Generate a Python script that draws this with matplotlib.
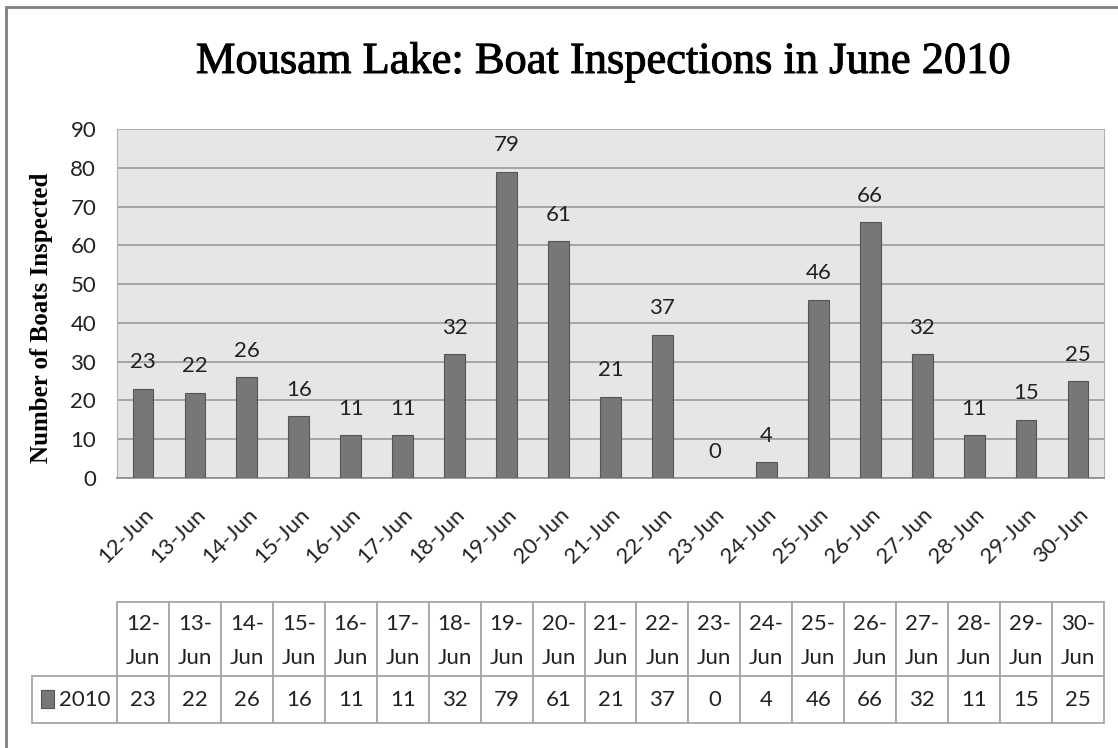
import matplotlib
matplotlib.use("Agg")
import matplotlib.pyplot as plt
import matplotlib.patheffects as pe
from matplotlib.patches import Rectangle

days = ["12-Jun", "13-Jun", "14-Jun", "15-Jun", "16-Jun", "17-Jun", "18-Jun", "19-Jun",
        "20-Jun", "21-Jun", "22-Jun", "23-Jun", "24-Jun", "25-Jun", "26-Jun", "27-Jun",
        "28-Jun", "29-Jun", "30-Jun"]
boats = [23, 22, 26, 16, 11, 11, 32, 79, 61, 21, 37, 0, 4, 46, 66, 32, 11, 15, 25]
series_name = "2010"
y_ticks = [0, 10, 20, 30, 40, 50, 60, 70, 80, 90]

W, H = 1118, 748
SANS = "Lato"
SERIF = "Liberation Serif"
BAR = "#777777"
TXT = "#222222"
FS = 16


def px(x0, y0, x1, y1):
    # pixel box (top-left origin) -> figure fraction rect
    return [x0 / W, 1 - y1 / H, (x1 - x0) / W, (y1 - y0) / H]


fig = plt.figure(figsize=(W / 100, H / 100), dpi=100)
fig.patch.set_facecolor("white")

# outer frame (only left and top edges visible)
fig.patches.append(Rectangle((6 / W, -0.1), 1.2, 1 - 7 / H + 0.1, transform=fig.transFigure,
                             fill=False, edgecolor="#7f7f7f", linewidth=2))

fig.text(604 / W, 1 - 62 / H, "Mousam Lake: Boat Inspections in June 2010",
         ha="center", va="center", fontsize=32, family=SERIF, color="#000000",
         path_effects=[pe.withStroke(linewidth=0.7, foreground="#000000")])

# bar chart
ax = fig.add_axes(px(117, 129, 1104, 478))
ax.set_facecolor("#e6e6e6")
x = list(range(len(days)))
ax.bar(x, boats, width=0.4, color=BAR, edgecolor="#555555", linewidth=0.8, zorder=3)
ax.set_xlim(-0.5, len(days) - 0.5)
ax.set_ylim(0, 90)
ax.set_yticks(y_ticks)
ax.yaxis.grid(True, color="#9a9a9a", linewidth=1.2, zorder=0)
ax.set_axisbelow(True)
for s in ["top", "right", "left"]:
    ax.spines[s].set_color("#b0b0b0")
ax.spines["bottom"].set_color("#8c8c8c")
ax.spines["bottom"].set_linewidth(1.2)
ax.tick_params(axis="y", length=0, pad=15, labelsize=FS, labelcolor=TXT)
ax.tick_params(axis="x", length=0, pad=19, labelsize=FS, labelcolor=TXT)
for lab in ax.get_yticklabels():
    lab.set_family(SANS)
ax.set_xticks(x)
ax.set_xticklabels(days, rotation=45, ha="right", va="top", rotation_mode="anchor", family=SANS)

for xi, v in zip(x, boats):
    ax.annotate(str(v), (xi, v), xytext=(0, 19), textcoords="offset points",
                ha="center", va="center", fontsize=FS, family=SANS, color=TXT)

ax.set_ylabel("Number of Boats Inspected", family=SERIF, fontweight="bold", fontsize=18)
ax.yaxis.set_label_coords(-64 / 987, 0.46)

# data table, columns aligned with the categories
tax = fig.add_axes(px(117, 602, 1104, 723))
tax.set_xlim(-0.5, len(days) - 0.5)
tax.set_ylim(121, 0)
tax.axis("off")
cw = 987 / len(days)
edge = dict(facecolor="white", edgecolor="#a6a6a6", linewidth=1.3, clip_on=False)
for xi, d, v in zip(x, days, boats):
    tax.add_patch(Rectangle((xi - 0.5, 0), 1, 74, **edge))
    tax.add_patch(Rectangle((xi - 0.5, 74), 1, 47, **edge))
    tax.text(xi, 39, d.replace("-", "-\n"), ha="center", va="center", fontsize=FS,
             family=SANS, color=TXT, linespacing=1.85)
    tax.text(xi, 98, str(v), ha="center", va="center", fontsize=FS, family=SANS, color=TXT)

lab_x0 = -0.5 - 85 / cw
tax.add_patch(Rectangle((lab_x0, 74), -0.5 - lab_x0, 47, **edge))
tax.add_patch(Rectangle((-0.5 - 76 / cw, 88), 13 / cw, 18, facecolor=BAR,
                        edgecolor="#555555", linewidth=0.8, clip_on=False))
tax.text(-0.5 - 32 / cw, 98, series_name, ha="center", va="center", fontsize=FS,
         family=SANS, color=TXT, clip_on=False)

fig.savefig("out.png", dpi=100, facecolor="white")
